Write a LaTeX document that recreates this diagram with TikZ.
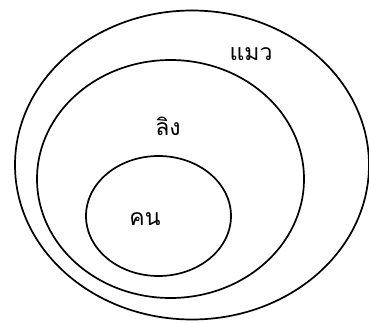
\documentclass[tikz,border=0pt]{standalone}
\usepackage{fontspec}
\newfontfamily\thaifont[Script=Thai]{Loma}
\begin{document}
\begin{tikzpicture}[x=1pt,y=1pt,
  ring/.style={draw=black,line width=1.7pt},
  lbl/.style={font=\thaifont\fontsize{23}{26}\selectfont,inner sep=0pt}]
\useasboundingbox (0,0) rectangle (369,322);
\draw[ring] (192,157) ellipse [x radius=177, y radius=154.5];
\draw[ring] (170.5,143) ellipse [x radius=133.5, y radius=119];
\draw[ring] (158.5,106) ellipse [x radius=72.5, y radius=60];
\node[lbl] (cat) at (251,268) {แมว};
\node[lbl] (monkey) at (168,196) {ลิง};
\node[lbl] (human) at (145,103) {คน};
\end{tikzpicture}
\end{document}
